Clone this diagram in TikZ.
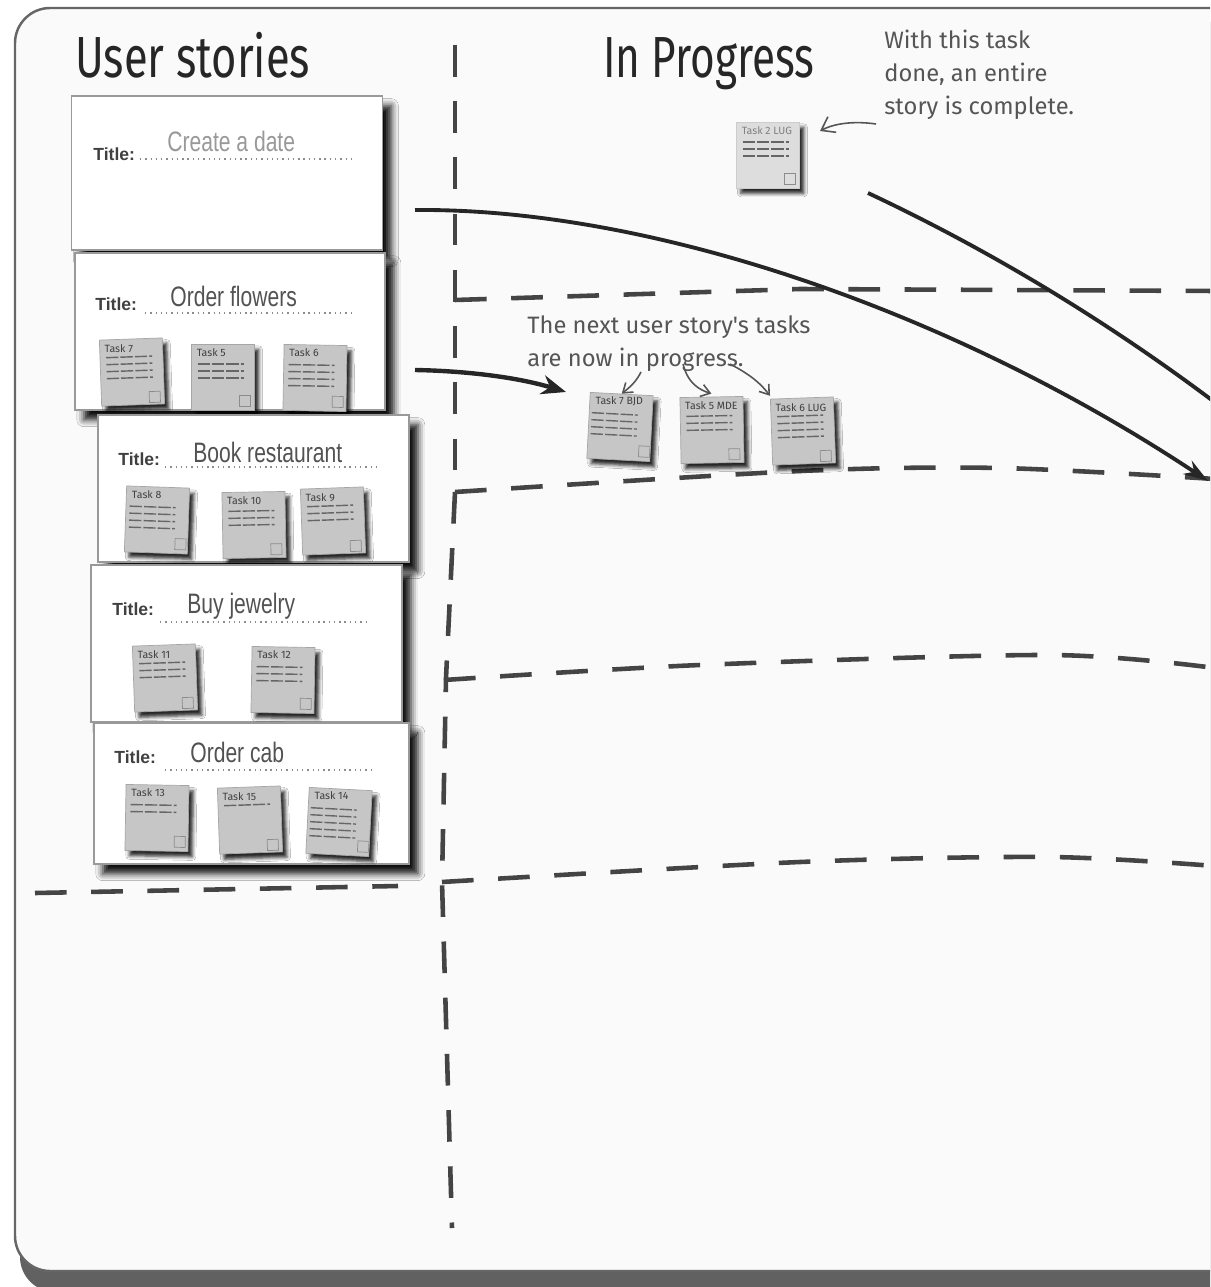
\documentclass[tikz,border=0pt]{standalone}
\usepackage{fontspec}
\setmainfont{Liberation Sans}
\newfontfamily\handfont{Fira Sans}
\usetikzlibrary{arrows.meta,calc,positioning,shadows,shadows.blur}

\definecolor{boardbg}{HTML}{FAFAFA}
\definecolor{ink}{HTML}{262626}
\definecolor{pencil}{HTML}{555555}
\definecolor{notefill}{HTML}{C6C6C6}
\definecolor{lanegray}{HTML}{444444}

\begin{document}
\begin{tikzpicture}[x=0.02cm, y=-0.02cm,
    lane/.style={draw=lanegray, line width=2.6pt, dash pattern=on 18pt off 14pt},
    bigcurve/.style={draw=ink, line width=2.2pt},
    handarrow/.style={draw=pencil, line width=0.9pt, -{Straight Barb[length=5pt, width=7pt]}},
    card/.style={draw=black!40, fill=white, line width=0.8pt, inner sep=0pt,
        blur shadow={shadow xshift=5pt, shadow yshift=-5.5pt, shadow blur radius=4pt, shadow opacity=95}},
    cardlbl/.style={anchor=base west, inner sep=0pt, text=black!75, font=\bfseries\fontsize{10}{12}\selectfont},
    cardttl/.style={anchor=base west, inner sep=0pt, text=black!68, font=\fontsize{16}{18}\selectfont},
    dotline/.style={draw=black!45, line width=0.8pt, dash pattern=on 0.8pt off 2.2pt},
    note/.style={draw=black!35, fill=notefill, inner sep=0pt, minimum width=1.26cm, minimum height=1.32cm,
        blur shadow={shadow xshift=2.5pt, shadow yshift=-3pt, shadow blur radius=2pt, shadow opacity=85},
        path picture={
            \foreach \k in {1,...,#1}
                \draw[black!60, line width=0.8pt, dash pattern=on 7pt off 1.2pt]
                    ($(path picture bounding box.north west)+(6,13+7*\k)$) -- ++(46,0);
            \draw[black!45, line width=0.4pt] ($(path picture bounding box.south east)+(-4,-4)$) rectangle ++(-11,-11);
        }},
    note/.default=3,
    notetitle/.style={anchor=north west, inner sep=1.5pt, xshift=1.5pt, yshift=-1pt,
        font=\handfont\fontsize{6}{7}\selectfont, text=black!75},
    heading/.style={anchor=base west, inner sep=0pt, text=ink, font=\handfont\fontsize{33}{36}\selectfont},
    handnote/.style={anchor=north west, inner sep=0pt, align=left, text=pencil,
        font=\handfont\fontsize{13.5}{18.8}\selectfont}]

    \useasboundingbox (0,0) rectangle (1210,1287);
    \clip (0,0) rectangle (1210,1287);

    % Board
    \fill[black!62, rounded corners=20pt] (20,22) rectangle (1265,1292);
    \draw[draw=black!60, line width=1.4pt, fill=boardbg, rounded corners=20pt] (15,8) rectangle (1265,1271);

    % Column headings
    \node[heading] (us) at (75,78) {\scalebox{0.75}[1]{User stories}};
    \node[heading] (ip) at (603,78) {\scalebox{0.73}[1]{In Progress}};

    % Lanes
    \draw[lane] (455,45) -- (455,480);
    \draw[lane] (455,492) -- (446,678) -- (442,882) -- (452,1228);
    \draw[lane] (455,300) -- (800,289) -- (1215,291);
    \draw[lane] plot[smooth] coordinates {(455,492) (800,471) (1000,468) (1215,479)};
    \draw[lane] plot[smooth] coordinates {(444,680) (700,665) (1050,655) (1215,668)};
    \draw[lane] plot[smooth] coordinates {(442,882) (800,862) (1050,857) (1215,866)};
    \draw[lane] (35,893) -- (398,886);

    % Story cards
    \node[card, minimum width=6.22cm, minimum height=3.08cm] (c1) at (227,173) {};
    \node[cardlbl] (ti1) at (93,161) {Title:};
    \node[cardttl, text=black!40] (st1) at (167,152) {\scalebox{0.75}[1]{Create a date}};
    \draw[dotline] (140,159) -- (352,159);

    \node[card, minimum width=6.2cm, minimum height=3.14cm] (c2) at (230,331.5) {};
    \node[cardlbl] (ti2) at (95,311) {Title:};
    \node[cardttl] (st2) at (170,307) {\scalebox{0.75}[1]{Order flowers}};
    \draw[dotline] (145,313) -- (355,313);
    \foreach \nm/\x/\y/\rot/\lines/\lbl in {t7a/132/372/2/4/Task 7, t5a/223/377/0/3/Task 5, t6a/315/378/-1/4/Task 6}
        \node[note=\lines, rotate=\rot, label={[notetitle]north west:\lbl}] (\nm) at (\x,\y) {};

    \node[card, minimum width=6.22cm, minimum height=2.94cm] (c3) at (253.5,488.5) {};
    \node[cardlbl] (ti3) at (118,465) {Title:};
    \node[cardttl] (st3) at (193,462) {\scalebox{0.75}[1]{Book restaurant}};
    \draw[dotline] (165,467) -- (380,467);
    \foreach \nm/\x/\y/\rot/\lines/\lbl in {t8/157/520/-2/4/Task 8, t10/254/525/1/3/Task 10, t9/333/521/2/3/Task 9}
        \node[note=\lines, rotate=\rot, label={[notetitle]north west:\lbl}] (\nm) at (\x,\y) {};

    \node[card, minimum width=6.22cm, minimum height=3.14cm] (c4) at (246.5,643.5) {};
    \node[cardlbl] (ti4) at (112,615) {Title:};
    \node[cardttl] (st4) at (187,613) {\scalebox{0.75}[1]{Buy jewelry}};
    \draw[dotline] (160,622) -- (370,622);
    \foreach \nm/\x/\y/\rot/\lines/\lbl in {t11/165/678/2/3/Task 11, t12/283/680/-1/3/Task 12}
        \node[note=\lines, rotate=\rot, label={[notetitle]north west:\lbl}] (\nm) at (\x,\y) {};

    \node[card, minimum width=6.3cm, minimum height=2.82cm] (c5) at (251.5,793.5) {};
    \node[cardlbl] (ti5) at (114,763) {Title:};
    \node[cardttl] (st5) at (190,762) {\scalebox{0.75}[1]{Order cab}};
    \draw[dotline] (165,770) -- (375,770);
    \foreach \nm/\x/\y/\rot/\lines/\lbl in {t13/157/818/-1/2/Task 13, t15/250/820/2/1/Task 15, t14/339/822/-3/5/Task 14}
        \node[note=\lines, rotate=\rot, label={[notetitle]north west:\lbl}] (\nm) at (\x,\y) {};

    % In progress
    \node[note=3, fill=notefill!60!white, draw=black!20, label={[notetitle, text=black!50]north west:Task 2 LUG}] (t2) at (768,155) {};
    \foreach \nm/\x/\y/\rot/\lines/\lbl in {t7/620/427/-3/4/Task 7 BJD, t5/712/430/1/3/Task 5 MDE, t6/803/431/2/4/Task 6 LUG}
        \node[note=\lines, rotate=\rot, label={[notetitle]north west:\lbl}] (\nm) at (\x,\y) {};

    % Annotations
    \node[handnote] (done) at (884,30) {With this task\\done, an entire\\story is complete.};
    \coordinate (d1) at (876,124);
    \coordinate (d2) at (820,131);
    \draw[handarrow, -{Straight Barb[length=7pt, width=10pt]}] (d1) .. controls (855,121) and (835,123) .. (d2);

    \node[handnote] (next) at (527,315) {The next user story's tasks\\are now in progress.};
    \coordinate (n1) at (641,372);
    \coordinate (n2) at (683,364);
    \coordinate (n3) at (730,364);
    \draw[handarrow] (n1) .. controls (636,382) and (630,387) .. (t7.north);
    \draw[handarrow] (n2) .. controls (688,384) and (700,390) .. ($(t5.north)+(0,-3)$);
    \draw[handarrow] (n3) .. controls (745,372) and (758,380) .. ($(t6.north west)+(0,-3)$);

    % Moves across the board
    \coordinate (a1) at (415,210);
    \coordinate (a2) at (1208,481);
    \draw[bigcurve, -{Stealth[length=14pt, width=9pt]}] (a1) .. controls (650,208) and (950,310) .. (a2);
    \coordinate (b1) at (868,193);
    \coordinate (b2) at (1225,410);
    \draw[bigcurve] (b1) .. controls (1000,255) and (1120,330) .. (b2);
    \coordinate (f1) at (415,370);
    \coordinate (f2) at (566,392);
    \draw[bigcurve, line width=2.5pt, -{Stealth[length=14pt, width=11pt]}] (f1) .. controls (470,371) and (520,378) .. (f2);

\end{tikzpicture}
\end{document}
